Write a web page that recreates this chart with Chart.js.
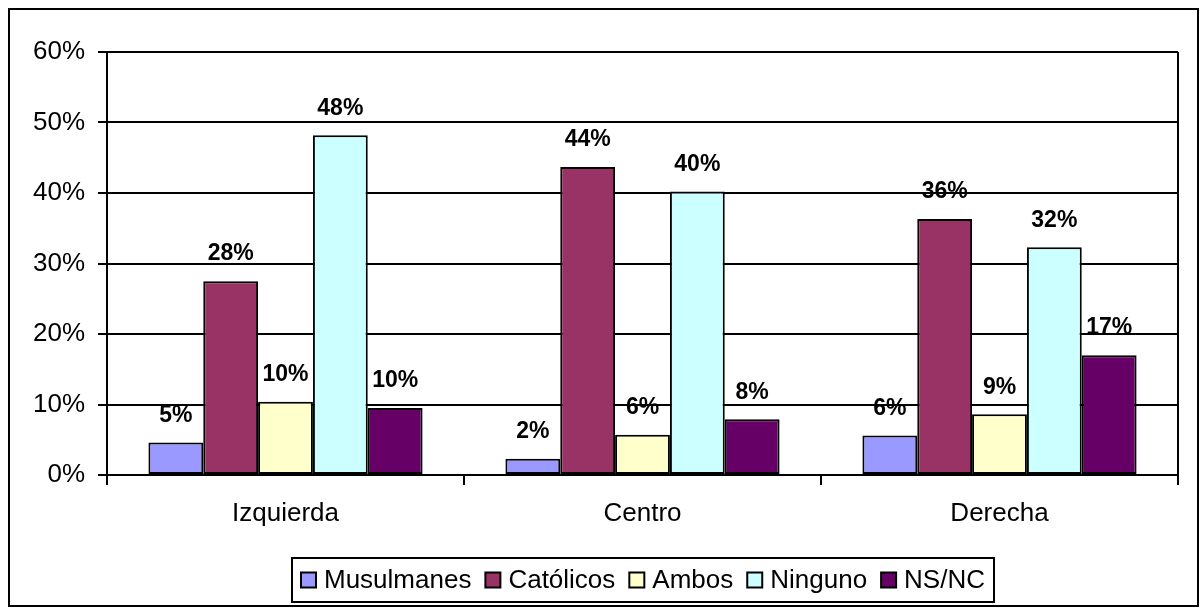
<!DOCTYPE html>
<html>
<head>
<meta charset="utf-8">
<script src="https://cdn.jsdelivr.net/npm/chart.js@4.4.1/dist/chart.umd.min.js"></script>
<style>
  body { margin: 0; background: #fff; }
  #wrap { width: 1202px; height: 608px; }
</style>
</head>
<body>
<div id="wrap"><canvas id="myChart" width="1202" height="608"></canvas></div>
<script>
const categories = ['Izquierda', 'Centro', 'Derecha'];
const seriesNames = ['Musulmanes', 'Católicos', 'Ambos', 'Ninguno', 'NS/NC'];
const musulmanes = [4.6, 2.3, 5.6];
const catolicos = [27.5, 43.7, 36.3];
const ambos = [10.4, 5.7, 8.6];
const ninguno = [48.2, 40.2, 32.3];
const nsnc = [9.5, 7.9, 17.0];
const yTicks = [0, 10, 20, 30, 40, 50, 60];

const colors = ['#9999FF', '#993366', '#FFFFCC', '#CCFFFF', '#660066'];
const FONT = '"Liberation Sans", Arial, sans-serif';

let ctx = document.getElementById('myChart');

// frame, plot border, value labels and legend box
const extras = {
    id: 'extras',
    afterDraw(chart) {
        const c = chart.ctx;
        const area = chart.chartArea;
        c.save();
        c.strokeStyle = '#000';
        c.lineWidth = 2;
        // outer frame
        c.strokeRect(9, 9, 1189, 597);
        // right border of plot
        c.beginPath();
        c.moveTo(area.right, area.top);
        c.lineTo(area.right, area.bottom);
        c.stroke();

        // value labels
        c.fillStyle = '#000';
        c.font = 'bold 23px ' + FONT;
        c.textAlign = 'center';
        c.textBaseline = 'middle';
        chart.data.datasets.forEach((ds, i) => {
            chart.getDatasetMeta(i).data.forEach((bar, j) => {
                c.fillText(Math.round(ds.data[j]) + '%', bar.x, bar.y - 27);
            });
        });

        // legend
        c.font = '26px ' + FONT;
        c.textAlign = 'left';
        const box = 15, gap = 8, sep = 14, pad = 9;
        let total = 0;
        seriesNames.forEach((n, i) => {
            total += box + gap + c.measureText(n).width + (i < seriesNames.length - 1 ? sep : 0);
        });
        const lw = Math.round(total + pad * 2);
        const lx = Math.round((area.left + area.right) / 2 - lw / 2);
        const ly = 558, lh = 44;
        c.strokeRect(lx, ly, lw, lh);
        let x = lx + pad;
        const cy = ly + lh / 2;
        seriesNames.forEach((n, i) => {
            c.fillStyle = colors[i];
            c.fillRect(x, cy - box / 2, box, box);
            c.strokeRect(x, cy - box / 2, box, box);
            x += box + gap;
            c.fillStyle = '#000';
            c.fillText(n, x, cy + 1);
            x += c.measureText(n).width + sep;
        });
        c.restore();
    }
};

const allData = [musulmanes, catolicos, ambos, ninguno, nsnc];

new Chart(ctx, {
    type: 'bar',
    data: {
        labels: categories,
        datasets: seriesNames.map((name, i) => ({
            label: name,
            data: allData[i],
            backgroundColor: colors[i],
            borderColor: '#000',
            borderWidth: 2,
            borderSkipped: false
        }))
    },
    options: {
        responsive: false,
        animation: false,
        events: [],
        layout: {
            padding: { left: 0, right: 24, top: 52, bottom: 73 }
        },
        plugins: {
            legend: { display: false },
            tooltip: { enabled: false }
        },
        datasets: {
            bar: { categoryPercentage: 0.768, barPercentage: 1 }
        },
        scales: {
            x: {
                grid: {
                    offset: true,
                    drawOnChartArea: false,
                    drawTicks: true,
                    tickLength: 10,
                    color: '#000',
                    lineWidth: 2
                },
                border: { color: '#000', width: 2 },
                ticks: {
                    color: '#000',
                    font: { family: FONT, size: 26 },
                    padding: 13
                },
                afterFit(scale) { scale.height = 60; }
            },
            y: {
                min: 0,
                max: 60,
                afterBuildTicks(scale) {
                    scale.ticks = yTicks.map(v => ({ value: v }));
                },
                grid: {
                    color: '#000',
                    lineWidth: 2,
                    tickLength: 9
                },
                border: { color: '#000', width: 2 },
                ticks: {
                    color: '#000',
                    font: { family: FONT, size: 26 },
                    padding: 13,
                    callback: v => v + '%'
                },
                afterFit(scale) { scale.width = 107; }
            }
        }
    },
    plugins: [extras]
});
</script>
</body>
</html>
